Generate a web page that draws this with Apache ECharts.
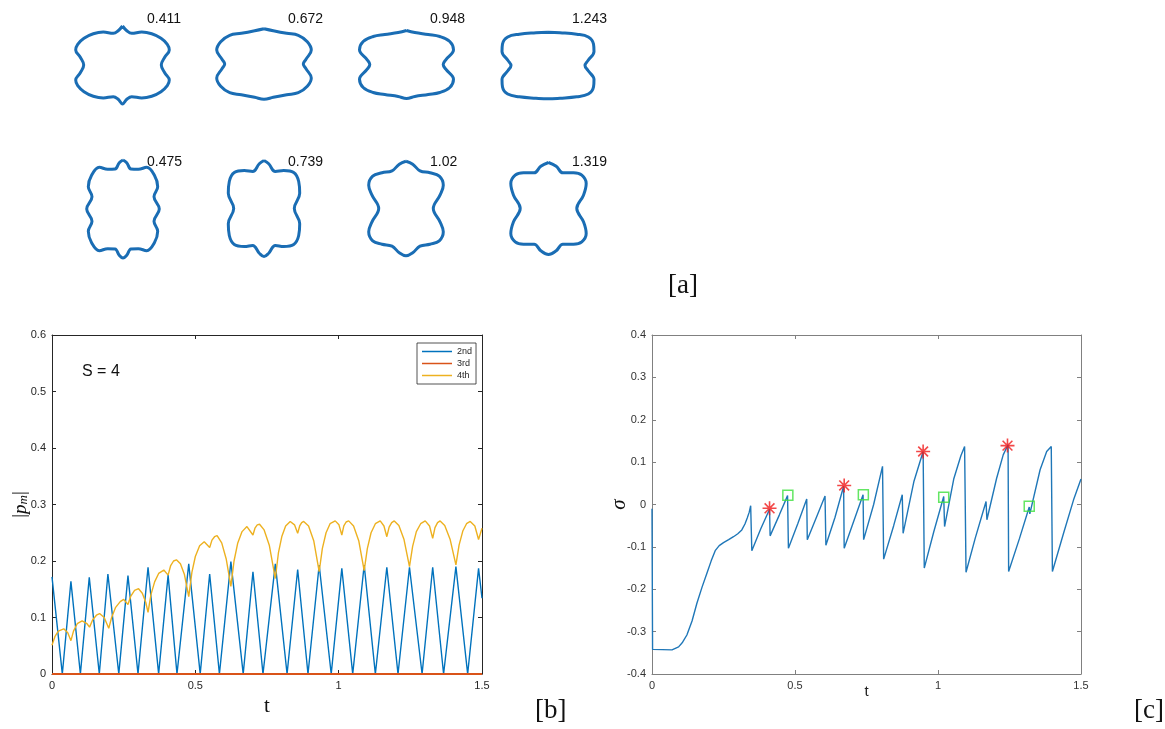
<!DOCTYPE html>
<html>
<head>
<meta charset="utf-8">
<script src="https://cdn.jsdelivr.net/npm/echarts@6/dist/echarts.min.js"></script>
<style>
html,body{margin:0;padding:0;background:#ffffff;}
#chart{width:1165px;height:729px;}
</style>
</head>
<body>
<div id="chart"></div>
<script>
// ---------- shape outlines: one quarter each (top centre -> right middle), y pointing down ----------
const shapeTimes = ['0.411', '0.672', '0.948', '1.243', '0.475', '0.739', '1.02', '1.319'];
const outline0411 = [[0,-39],[4.3,-34.3],[9.2,-31.7],[19.2,-33],[29.2,-31.3],[38.5,-26.7],[44.8,-20.7],[46.8,-15],[42.2,-7.7],[38.8,0]];
const outline0672 = [[0,-35.3],[9.3,-33.3],[22.7,-30.7],[34.3,-28.7],[43.3,-22.3],[47.3,-14],[42,-4.7],[39.3,0]];
const outline0948 = [[0,-34],[8.3,-32],[21.7,-30],[33.3,-28],[43.3,-23],[47,-14.7],[39.3,-4.7],[36.7,0]];
const outline1243 = [[0,-33.3],[12,-32.7],[28.7,-31.3],[40.3,-28.5],[45.5,-21.5],[46,-14],[40,-5],[37,0]];
const outline0475 = [[0,-49],[3.7,-46.3],[8,-40],[15.3,-39.7],[23.7,-41.7],[31.3,-34],[34.7,-22.3],[31,-12.3],[36.3,0]];
const outline0739 = [[0,-48],[4.7,-44.7],[11.3,-37],[19.7,-38],[29.7,-36],[34.7,-27],[35.7,-15.3],[30.3,0]];
const outline1020 = [[0,-47.3],[6.7,-44.3],[14,-37.7],[24,-35.7],[33.3,-32.3],[37.3,-23.3],[34,-13.3],[27.3,0]];
const outline1319 = [[0,-46],[7.7,-42.3],[14.3,-35.7],[25,-35.7],[33.3,-33.3],[37.7,-25],[35,-13.3],[28.3,0]];
const outlines = [outline0411, outline0672, outline0948, outline1243, outline0475, outline0739, outline1020, outline1319];

// ---------- panel [b]: |p_m| against t ----------
const mode2 = [[0,0.172],[0.036,0],[0.066,0.164],[0.099,0],[0.130,0.171],[0.165,0],[0.195,0.177],[0.233,0],
  [0.265,0.174],[0.300,0],[0.335,0.189],[0.372,0],[0.405,0.175],[0.436,0],[0.477,0.195],[0.517,0],
  [0.550,0.177],[0.584,0],[0.624,0.199],[0.667,0],[0.701,0.181],[0.736,0],[0.779,0.195],[0.820,0],
  [0.857,0.185],[0.893,0],[0.932,0.193],[0.974,0],[1.011,0.187],[1.049,0],[1.089,0.193],[1.128,0],
  [1.168,0.189],[1.207,0],[1.247,0.189],[1.291,0],[1.328,0.189],[1.366,0],[1.409,0.190],[1.450,0],
  [1.488,0.187],[1.500,0.134]];
const mode3 = [[0,0],[1.5,0]];
const mode4 = [[0.000,0.051],[0.010,0.066],[0.022,0.076],[0.041,0.080],[0.055,0.073],[0.066,0.059],[0.075,0.076],
  [0.088,0.089],[0.105,0.094],[0.122,0.089],[0.131,0.083],[0.142,0.096],[0.155,0.104],[0.166,0.107],[0.182,0.100],
  [0.198,0.081],[0.208,0.100],[0.222,0.118],[0.238,0.128],[0.250,0.132],[0.265,0.123],[0.275,0.138],[0.288,0.148],
  [0.302,0.151],[0.315,0.143],[0.327,0.127],[0.335,0.109],[0.345,0.140],[0.358,0.163],[0.372,0.178],[0.390,0.184],
  [0.405,0.175],[0.414,0.192],[0.424,0.200],[0.434,0.202],[0.448,0.195],[0.462,0.176],[0.477,0.137],[0.488,0.180],
  [0.500,0.208],[0.515,0.227],[0.531,0.234],[0.550,0.224],[0.558,0.237],[0.567,0.243],[0.576,0.245],[0.592,0.232],
  [0.608,0.203],[0.624,0.155],[0.635,0.200],[0.648,0.232],[0.663,0.252],[0.680,0.261],[0.701,0.246],[0.708,0.258],
  [0.716,0.264],[0.724,0.265],[0.740,0.255],[0.758,0.228],[0.779,0.169],[0.790,0.215],[0.802,0.244],[0.815,0.262],
  [0.831,0.270],[0.846,0.264],[0.857,0.249],[0.864,0.262],[0.871,0.268],[0.878,0.270],[0.895,0.262],[0.913,0.236],
  [0.932,0.181],[0.943,0.222],[0.956,0.250],[0.970,0.266],[0.988,0.271],[1.001,0.264],[1.011,0.246],[1.018,0.262],
  [1.026,0.269],[1.035,0.271],[1.052,0.262],[1.070,0.236],[1.089,0.183],[1.100,0.222],[1.113,0.250],[1.128,0.266],
  [1.145,0.271],[1.158,0.262],[1.168,0.243],[1.176,0.260],[1.185,0.268],[1.194,0.271],[1.210,0.263],[1.228,0.238],
  [1.247,0.190],[1.258,0.226],[1.271,0.252],[1.286,0.266],[1.302,0.271],[1.317,0.262],[1.328,0.240],[1.336,0.259],
  [1.345,0.268],[1.354,0.271],[1.370,0.263],[1.389,0.238],[1.409,0.193],[1.420,0.228],[1.433,0.253],[1.446,0.266],
  [1.459,0.270],[1.475,0.262],[1.488,0.238],[1.500,0.258]];
const modeNames = ['2nd', '3rd', '4th'];
const pTicksT = [0, 0.5, 1, 1.5];
const pTicksY = [0, 0.1, 0.2, 0.3, 0.4, 0.5, 0.6];

// ---------- panel [c]: sigma against t ----------
const sigma = [[0,-0.010],[0.002,-0.342],[0.070,-0.343],[0.093,-0.336],[0.107,-0.325],[0.122,-0.308],[0.140,-0.275],
  [0.157,-0.233],[0.175,-0.195],[0.192,-0.162],[0.207,-0.133],[0.221,-0.109],[0.235,-0.097],[0.250,-0.090],
  [0.268,-0.083],[0.285,-0.076],[0.300,-0.069],[0.314,-0.060],[0.325,-0.046],[0.333,-0.032],[0.340,-0.018],
  [0.345,-0.003],[0.349,-0.109],[0.380,-0.058],[0.411,-0.011],[0.413,-0.074],[0.445,-0.025],[0.474,0.021],
  [0.477,-0.103],[0.510,-0.045],[0.541,0.013],[0.543,-0.083],[0.575,-0.030],[0.605,0.020],[0.608,-0.096],
  [0.640,-0.030],[0.670,0.043],[0.672,-0.103],[0.705,-0.040],[0.738,0.023],[0.740,-0.083],[0.775,0.000],
  [0.806,0.090],[0.810,-0.129],[0.845,-0.050],[0.875,0.023],[0.878,-0.068],[0.916,0.055],[0.948,0.125],
  [0.952,-0.150],[0.985,-0.065],[1.020,0.019],[1.023,-0.052],[1.055,0.060],[1.080,0.115],[1.093,0.137],
  [1.098,-0.160],[1.130,-0.080],[1.168,0.007],[1.171,-0.036],[1.205,0.062],[1.228,0.117],[1.245,0.141],
  [1.247,-0.158],[1.285,-0.080],[1.319,-0.006],[1.321,-0.022],[1.357,0.082],[1.380,0.125],[1.396,0.137],
  [1.400,-0.158],[1.439,-0.068],[1.474,0.011],[1.500,0.060]];
const starPoints = [[0.411,-0.009],[0.672,0.045],[0.948,0.125],[1.243,0.139]];
const squarePoints = [[0.475,0.022],[0.739,0.023],[1.02,0.017],[1.319,-0.004]];
const sTicksT = [0, 0.5, 1, 1.5];
const sTicksY = [-0.4, -0.3, -0.2, -0.1, 0, 0.1, 0.2, 0.3, 0.4];

// ---------- layout ----------
const shapeCentres = [[122.5,65],[264,64],[406.5,64.5],[548,65.5],[123,209],[264,208.5],[406,208.5],[548.5,208.5]];
const labelLeft = [147, 288, 430, 572];
const labelMidY = [19, 162];
const SANS = 'Liberation Sans';
const SERIF = 'Liberation Serif';
const BLUE = '#0072BD', ORANGE = '#D95319', YELLOW = '#EDB120';

// mirror a quarter outline into a closed curve
function closedOutline(q) {
  const a = q;
  const b = q.slice(0, -1).reverse().map(([x, y]) => [x, -y]);
  const c = q.slice(1).map(([x, y]) => [-x, -y]);
  const d = q.slice(0, -1).reverse().map(([x, y]) => [-x, y]);
  return a.concat(b, c, d);
}

// tidy tick text: 0.30000000000000004 -> 0.3
const tickText = (v) => String(Math.round(v * 1000) / 1000);

function frame(gridIndex, ticksX, ticksY, lineColor, textColor) {
  const step = (t) => Math.round((t[1] - t[0]) * 1000) / 1000;
  const common = {
    type: 'value', gridIndex,
    axisLine: { show: true, onZero: false, lineStyle: { color: lineColor, width: 1 } },
    axisTick: { show: true, inside: true, length: 4, lineStyle: { color: lineColor } },
    splitLine: { show: false }
  };
  const label = { fontSize: 11, color: textColor, fontFamily: SANS, margin: 6, formatter: tickText };
  const xr = { min: ticksX[0], max: ticksX[ticksX.length - 1], interval: step(ticksX) };
  const yr = { min: ticksY[0], max: ticksY[ticksY.length - 1], interval: step(ticksY) };
  return {
    x: [Object.assign({}, common, xr, { position: 'bottom', axisLabel: label }),
        Object.assign({}, common, xr, { position: 'top', axisLabel: { show: false } })],
    y: [Object.assign({}, common, yr, { position: 'left', axisLabel: label }),
        Object.assign({}, common, yr, { position: 'right', axisLabel: { show: false } })]
  };
}

function axisName(axis, name, gap, rotate, textStyle) {
  Object.assign(axis, {
    name, nameLocation: 'middle', nameGap: gap, nameMoveOverlap: false,
    nameTextStyle: textStyle
  });
  if (rotate) axis.nameRotate = rotate;
}

const fb = frame(1, pTicksT, pTicksY, '#262626', '#262626');
const fc = frame(2, sTicksT, sTicksY, '#808080', '#333333');

axisName(fb.x[0], 't', 22, 0, { fontFamily: SERIF, fontSize: 21, color: '#111' });
axisName(fb.y[0], '{b||}{i|p}{s|m}{b||}', 22, 90, {
  color: '#111',
  rich: {
    b: { fontFamily: SERIF, fontSize: 19, color: '#111' },
    i: { fontFamily: SERIF, fontSize: 19, fontStyle: 'italic', color: '#111' },
    s: { fontFamily: SERIF, fontSize: 13, fontStyle: 'italic', color: '#111', verticalAlign: 'bottom' }
  }
});
axisName(fc.x[0], 't', 10, 0, { fontFamily: SANS, fontSize: 15, color: '#222' });
axisName(fc.y[0], 'σ', 22, 90, { fontFamily: SERIF, fontSize: 21, fontStyle: 'italic', color: '#111' });

const xAxes = [
  { type: 'value', gridIndex: 0, min: 0, max: 1165, show: false },
  fb.x[0], fb.x[1], fc.x[0], fc.x[1]
];
const yAxes = [
  { type: 'value', gridIndex: 0, min: 0, max: 300, inverse: true, show: false },
  fb.y[0], fb.y[1], fc.y[0], fc.y[1]
];

const series = [];
outlines.forEach((q, i) => {
  const [cx, cy] = shapeCentres[i];
  series.push({
    name: 'shape ' + shapeTimes[i], type: 'line', xAxisIndex: 0, yAxisIndex: 0,
    data: closedOutline(q).map(([x, y]) => [cx + x, cy + y]),
    smooth: 0.4, symbol: 'none', silent: true,
    lineStyle: { color: '#1A6DB4', width: 3 }
  });
});

const modeColours = [BLUE, ORANGE, YELLOW];
[mode2, mode3, mode4].forEach((d, k) => {
  series.push({
    name: modeNames[k], type: 'line', xAxisIndex: 1, yAxisIndex: 1, data: d,
    symbol: 'none', silent: true, z: k === 1 ? 4 : 3,
    lineStyle: { color: modeColours[k], width: k === 1 ? 2 : 1.4 },
    itemStyle: { color: modeColours[k] }
  });
});

series.push({
  name: 'sigma', type: 'line', xAxisIndex: 3, yAxisIndex: 3, data: sigma,
  symbol: 'none', silent: true, lineStyle: { color: '#1F77B8', width: 1.4 }
});
series.push({
  name: 'stars', type: 'scatter', xAxisIndex: 3, yAxisIndex: 3, data: starPoints, silent: true, z: 5,
  symbol: 'path://M0,-10L0,10M-10,0L10,0M-7,-7L7,7M-7,7L7,-7', symbolSize: 14,
  itemStyle: { color: 'rgba(0,0,0,0)', borderColor: '#F01A1A', borderWidth: 1.6 }
});
series.push({
  name: 'squares', type: 'scatter', xAxisIndex: 3, yAxisIndex: 3, data: squarePoints, silent: true, z: 5,
  symbol: 'rect', symbolSize: 10,
  itemStyle: { color: 'rgba(0,0,0,0)', borderColor: '#3CE03C', borderWidth: 1.5 }
});

const graphics = [];
shapeTimes.forEach((txt, i) => {
  graphics.push({
    type: 'text', x: labelLeft[i % 4], y: labelMidY[Math.floor(i / 4)], silent: true,
    style: { text: txt, fontFamily: SANS, fontSize: 14, fill: '#111', verticalAlign: 'middle' }
  });
});
graphics.push({ type: 'text', x: 82, y: 372, silent: true,
  style: { text: 'S = 4', fontFamily: SANS, fontSize: 16, fill: '#111', verticalAlign: 'middle' } });
[['[a]', 668, 286], ['[b]', 535, 711], ['[c]', 1134, 711]].forEach(([t, x, y]) => {
  graphics.push({ type: 'text', x, y, silent: true,
    style: { text: t, fontFamily: SERIF, fontSize: 27, fill: '#111', verticalAlign: 'middle' } });
});

const chart = echarts.init(document.getElementById('chart'), null, { renderer: 'canvas' });
chart.setOption({
  backgroundColor: '#ffffff',
  animation: false,
  grid: [
    { left: 0, top: 0, width: 1165, height: 300 },
    { left: 52, top: 335, width: 430, height: 339 },
    { left: 652, top: 335, width: 429, height: 339 }
  ],
  xAxis: xAxes,
  yAxis: yAxes,
  legend: {
    data: modeNames.map(n => ({ name: n, icon: 'rect' })),
    orient: 'vertical', left: 417, top: 343,
    itemWidth: 30, itemHeight: 1.5, itemGap: 1,
    padding: [3, 4, 3, 5],
    backgroundColor: '#ffffff', borderColor: '#262626', borderWidth: 0.8, borderRadius: 0,
    textStyle: { fontFamily: SANS, fontSize: 9, color: '#262626', lineHeight: 11 },
    selectedMode: false
  },
  series,
  graphic: graphics
});
</script>
</body>
</html>
